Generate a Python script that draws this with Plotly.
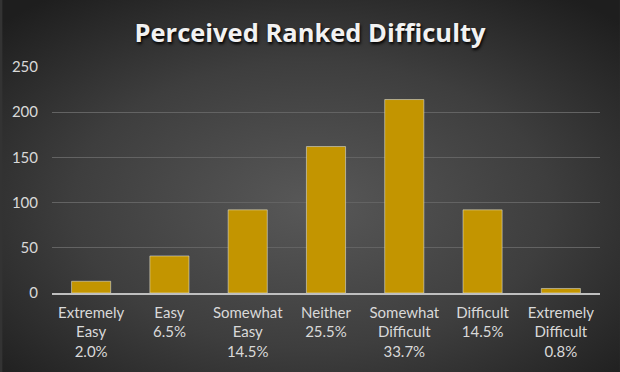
import base64
import plotly.graph_objects as go

categories = ["Extremely<br>Easy<br>2.0%", "Easy<br>6.5%", "Somewhat<br>Easy<br>14.5%",
              "Neither<br>25.5%", "Somewhat<br>Difficult<br>33.7%", "Difficult<br>14.5%",
              "Extremely<br>Difficult<br>0.8%"]
counts = [13, 41, 92, 162, 214, 92, 5]
y_ticks = [0, 50, 100, 150, 200, 250]

W, H = 620, 372
L, R, T, B = 50, 20, 67, 79

svg = f'''<svg xmlns="http://www.w3.org/2000/svg" width="{W}" height="{H}">
<defs><radialGradient id="g" cx="50%" cy="55%" r="70%">
<stop offset="0" stop-color="#585858"/><stop offset="0.55" stop-color="#3e3e3e"/><stop offset="1" stop-color="#1e1e1e"/>
</radialGradient></defs><rect width="{W}" height="{H}" fill="url(#g)"/></svg>'''
src = "data:image/svg+xml;base64," + base64.b64encode(svg.encode()).decode()

pw, ph = W - L - R, H - T - B

fig = go.Figure(go.Bar(x=categories, y=counts, marker_color="#C39500", width=0.5))
fig.update_layout(
    width=W, height=H,
    margin=dict(l=L, r=R, t=T, b=B),
    paper_bgcolor="#333333", plot_bgcolor="rgba(0,0,0,0)",
    font=dict(family="Lato", color="#D9D9D9", size=15),
    title=dict(text="<b>Perceived Ranked Difficulty</b>", x=0.5, xanchor="center",
               y=1 - 33 / H, yanchor="middle",
               font=dict(family="Open Sans", size=25.5, color="#F2F2F2",
                         shadow="1px 2px 3px #000000")),
    showlegend=False,
    images=[dict(source=src, xref="paper", yref="paper", x=-L / pw, y=1 + T / ph,
                 sizex=W / pw, sizey=H / ph, xanchor="left", yanchor="top",
                 sizing="stretch", layer="below")],
    bargap=0.5,
)
fig.update_xaxes(showline=True, linecolor="#BFBFBF", linewidth=1.5, tickfont=dict(size=15),
                 ticks="outside", ticklen=5, tickcolor="rgba(0,0,0,0)")
fig.update_yaxes(range=[0, 250], tickvals=y_ticks, gridcolor="#636363", gridwidth=1,
                 zeroline=False, tickfont=dict(size=15), ticks="outside", ticklen=10,
                 tickcolor="rgba(0,0,0,0)")
fig.write_html("out.html", config={"displayModeBar": False},
               post_script="document.body.style.margin='0';document.body.style.overflow='hidden';")
